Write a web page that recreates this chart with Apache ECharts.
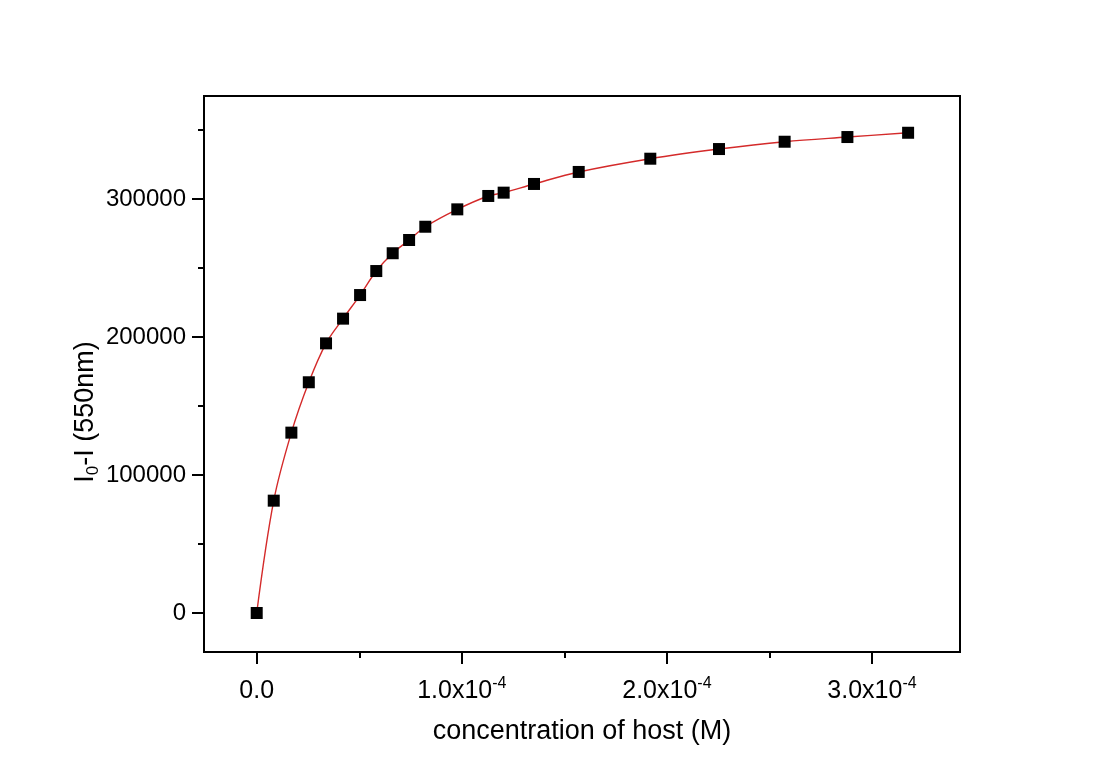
<!DOCTYPE html>
<html><head><meta charset="utf-8">
<script src="https://cdn.jsdelivr.net/npm/echarts@6/dist/echarts.min.js"></script>
<style>html,body{margin:0;padding:0;background:#fff}#c{width:1100px;height:771px}</style>
</head><body><div id="c"></div>
<script>
// Data
const concentration = [0, 8.3e-6, 1.69e-5, 2.54e-5, 3.38e-5, 4.21e-5, 5.04e-5, 5.83e-5, 6.63e-5, 7.43e-5, 8.22e-5, 9.78e-5, 1.129e-4, 1.204e-4, 1.352e-4, 1.570e-4, 1.919e-4, 2.254e-4, 2.574e-4, 2.880e-4, 3.176e-4];
const intensityChange = [0, 81400, 130700, 167200, 195400, 213300, 230400, 247800, 260700, 270300, 279900, 292500, 302200, 304600, 310900, 319600, 329200, 336200, 341500, 344900, 348000];
const xMajorTicks = [0, 1e-4, 2e-4, 3e-4];
const xTickMantissa = ['0.0', '1.0', '2.0', '3.0'];
const xTickExponent = '-4';
const xMinorTicks = [0.5e-4, 1.5e-4, 2.5e-4];
const yMajorTicks = [0, 100000, 200000, 300000];
const yTickLabels = ['0', '100000', '200000', '300000'];
const yMinorTicks = [50000, 150000, 250000, 350000];
const xTitle = 'concentration of host (M)';
const yTitleParts = ['I', '0', '-I (550nm)'];

const points = concentration.map((x, i) => [x, intensityChange[i]]);
const FONT = "'Liberation Sans', Arial, sans-serif";
const xMin = -0.257e-4, xMax = 3.429e-4, yMin = -28260, yMax = 374640;

function findIdx(arr, v) { return arr.findIndex(t => Math.abs(t - v) <= Math.abs(arr[arr.length-1]) * 1e-6 + 1e-12); }

const chart = echarts.init(document.getElementById('c'));
chart.setOption({
  backgroundColor: '#fff',
  animation: false,
  grid: { left: 204, right: 140, top: 96, bottom: 119, show: true, borderColor: '#000', borderWidth: 2, backgroundColor: 'transparent' },
  graphic: [{
    type: 'text', x: 86, y: 412, rotation: Math.PI / 2,
    style: {
      text: '{a|' + yTitleParts[0] + '}{s|' + yTitleParts[1] + '}{a|' + yTitleParts[2] + '}',
      align: 'center', verticalAlign: 'middle', fill: '#000',
      rich: {
        a: { fontFamily: FONT, fontSize: 27, fill: '#000', lineHeight: 32 },
        s: { fontFamily: FONT, fontSize: 17, fill: '#000', verticalAlign: 'bottom', lineHeight: 32 }
      }
    }
  }],
  xAxis: [
    {
      type: 'value', min: xMin, max: xMax, position: 'bottom',
      splitLine: { show: false },
      axisLine: { show: true, onZero: false, lineStyle: { color: '#000', width: 2 } },
      axisTick: { show: true, inside: false, length: 12, customValues: xMajorTicks, lineStyle: { color: '#000', width: 2 } },
      axisLabel: {
        customValues: xMajorTicks, margin: 24, color: '#000',
        formatter: v => {
          const i = findIdx(xMajorTicks, v);
          if (i < 0) return '';
          if (i === 0) return '{a|' + xTickMantissa[0] + '}';
          return '{a|' + xTickMantissa[i] + 'x10}{s|' + xTickExponent + '}';
        },
        rich: {
          a: { fontFamily: FONT, fontSize: 25, color: '#000', lineHeight: 30 },
          s: { fontFamily: FONT, fontSize: 16, color: '#000', verticalAlign: 'top', lineHeight: 30 }
        }
      },
      name: xTitle, nameLocation: 'middle', nameGap: 66,
      nameTextStyle: { fontFamily: FONT, fontSize: 27, color: '#000' }
    },
    {
      type: 'value', min: xMin, max: xMax, position: 'bottom',
      splitLine: { show: false },
      axisLine: { show: false, onZero: false },
      axisTick: { show: true, inside: false, length: 6, customValues: xMinorTicks, lineStyle: { color: '#000', width: 2 } },
      axisLabel: { show: false }
    }
  ],
  yAxis: [
    {
      type: 'value', min: yMin, max: yMax, position: 'left',
      splitLine: { show: false },
      axisLine: { show: true, onZero: false, lineStyle: { color: '#000', width: 2 } },
      axisTick: { show: true, inside: false, length: 12, customValues: yMajorTicks, lineStyle: { color: '#000', width: 2 } },
      axisLabel: {
        customValues: yMajorTicks, margin: 18, color: '#000', fontFamily: FONT, fontSize: 24,
        formatter: v => { const i = findIdx(yMajorTicks, v); return i < 0 ? '' : yTickLabels[i]; }
      }
    },
    {
      type: 'value', min: yMin, max: yMax, position: 'left',
      splitLine: { show: false },
      axisLine: { show: false, onZero: false },
      axisTick: { show: true, inside: false, length: 6, customValues: yMinorTicks, lineStyle: { color: '#000', width: 2 } },
      axisLabel: { show: false }
    }
  ],
  series: [
    {
      type: 'line', data: points, xAxisIndex: 0, yAxisIndex: 0,
      smooth: 0.35, showSymbol: false, symbol: 'none',
      lineStyle: { color: '#d42a2a', width: 1.4 }, z: 2
    },
    {
      type: 'scatter', data: points, xAxisIndex: 0, yAxisIndex: 0,
      symbol: 'rect', symbolSize: 12,
      itemStyle: { color: '#000', opacity: 1 }, z: 3
    }
  ]
});
</script>
</body></html>
